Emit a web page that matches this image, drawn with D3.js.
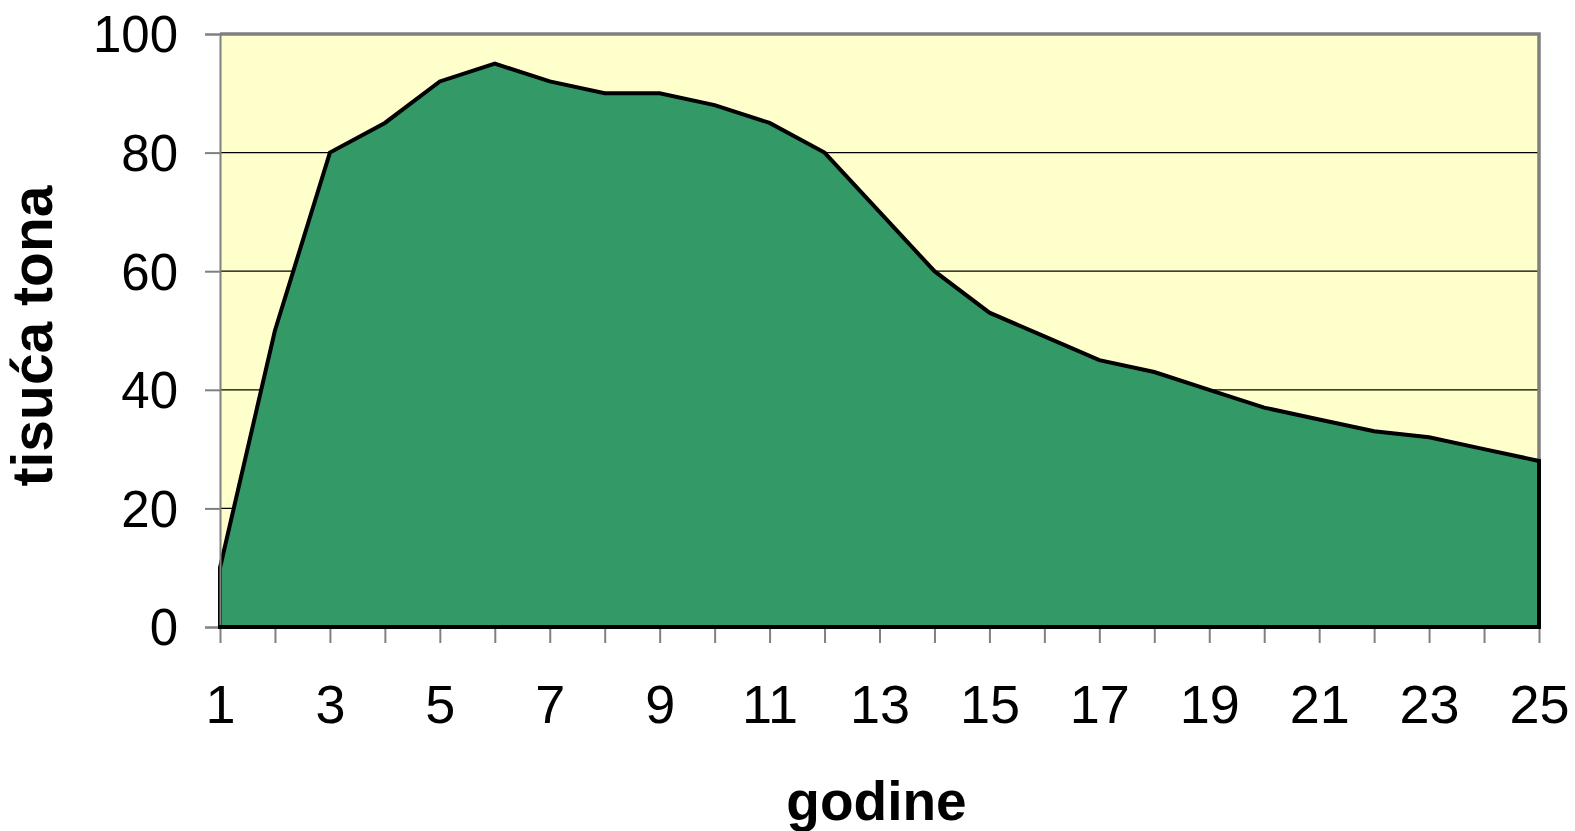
<!DOCTYPE html>
<html>
<head>
<meta charset="utf-8">
<script src="https://cdn.jsdelivr.net/npm/d3@7"></script>
<style>
  html, body { margin: 0; padding: 0; background: #fff; }
  svg { display: block; }
  text { font-family: "Liberation Sans", Arial, sans-serif; fill: #000; }
</style>
</head>
<body>
<svg id="chart" width="1575" height="831"></svg>
<script>
const years = [1,2,3,4,5,6,7,8,9,10,11,12,13,14,15,16,17,18,19,20,21,22,23,24,25];
const values = [10,50,80,85,92,95,92,90,90,88,85,80,70,60,53,49,45,43,40,37,35,33,32,30,28];
const yTicks = [0,20,40,60,80,100];
const xTickLabels = [1,3,5,7,9,11,13,15,17,19,21,23,25];
const xTitle = "godine";
const yTitle = "tisuća tona";

const svg = d3.select("#chart");
const L = 220, R = 1539, T = 34, B = 627;

const x = d3.scaleLinear().domain([1, 25]).range([L, R]);
const y = d3.scaleLinear().domain([0, 100]).range([B, T]);

// plot background
svg.append("rect").attr("x", L).attr("y", T).attr("width", R - L).attr("height", B - T)
  .attr("fill", "#FFFFCC");

// gridlines
svg.append("g").selectAll("line").data(yTicks.filter(d => d > 0 && d < 100)).join("line")
  .attr("x1", L).attr("x2", R).attr("y1", d => y(d)).attr("y2", d => y(d))
  .attr("stroke", "#000").attr("stroke-width", 1.3);

// frame top and right (gray)
svg.append("path")
  .attr("d", `M${L},${T} L${R},${T} L${R},${B}`)
  .attr("fill", "none").attr("stroke", "#808080").attr("stroke-width", 3.5);

// area
const area = d3.area().x((d, i) => x(years[i])).y0(y(0)).y1(d => y(d));
svg.append("path").datum(values)
  .attr("d", area)
  .attr("fill", "#339966")
  .attr("stroke", "#000").attr("stroke-width", 4).attr("stroke-linejoin", "miter");

// left axis
const yAxis = d3.axisLeft(y).tickValues(yTicks).tickSize(15).tickPadding(27).tickFormat(d3.format("d"));
const gy = svg.append("g").attr("transform", `translate(${L},0)`).call(yAxis);
gy.select(".domain").attr("stroke", "#808080").attr("stroke-width", 2);
gy.selectAll(".tick line").attr("stroke", "#808080").attr("stroke-width", 2);
gy.selectAll(".tick text").attr("font-size", 51).attr("font-family", "Liberation Sans, Arial, sans-serif")
  .attr("dy", "0.35em");

// bottom axis ticks
const xAxis = d3.axisBottom(x).tickValues(years).tickSize(16).tickPadding(42)
  .tickFormat(d => xTickLabels.includes(d) ? String(d) : "");
const gx = svg.append("g").attr("transform", `translate(0,${B})`).call(xAxis);
gx.select(".domain").attr("stroke", "#808080").attr("stroke-width", 2).attr("d", `M${L},0H${R}`);
gx.selectAll(".tick line").attr("stroke", "#808080").attr("stroke-width", 2);
gx.selectAll(".tick text").attr("font-size", 54).attr("font-family", "Liberation Sans, Arial, sans-serif");

// redraw black bottom stroke on top of axis domain
svg.append("line").attr("x1", L - 2).attr("x2", R + 2).attr("y1", B).attr("y2", B)
  .attr("stroke", "#000").attr("stroke-width", 4);

// axis titles
svg.append("text").attr("x", (L + R) / 2 - 3).attr("y", 820)
  .attr("text-anchor", "middle").attr("font-size", 55).attr("font-weight", "bold").text(xTitle);
svg.append("text").attr("transform", "translate(52,336) rotate(-90)")
  .attr("text-anchor", "middle").attr("font-size", 57).attr("font-weight", "bold").text(yTitle);
</script>
</body>
</html>
